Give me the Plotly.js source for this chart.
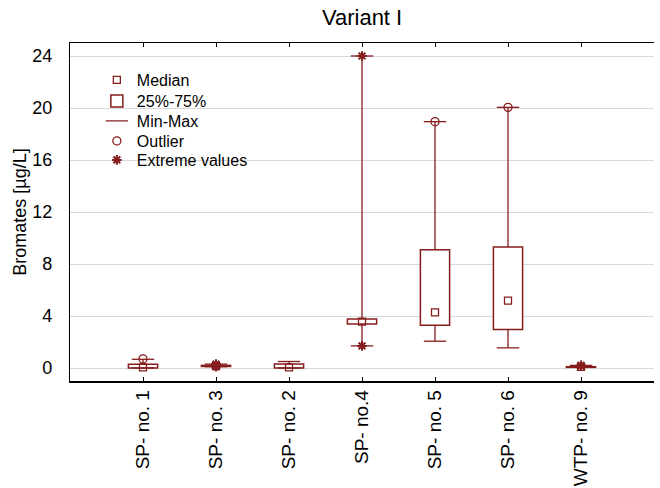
<!DOCTYPE html>
<html>
<head>
<meta charset="utf-8">
<script src="https://cdn.plot.ly/plotly-3.0.1.min.js"></script>
<style>html,body{margin:0;padding:0;background:#fff;}#chart{width:660px;height:488px;}</style>
</head>
<body>
<div id="chart"></div>
<script>
// ---- data ----
const categories = ["SP- no. 1", "SP- no. 3", "SP- no. 2", "SP- no.4", "SP- no. 5", "SP- no. 6", "WTP- no. 9"];
const medianVals = [0.05, 0.15, 0.05, 3.56, 4.28, 5.18, 0.08];
const q1Vals     = [0.0, 0.12, 0.0, 3.38, 3.28, 2.97, 0.05];
const q3Vals     = [0.29, 0.2, 0.3, 3.77, 9.1, 9.3, 0.1];
const minVals    = [0.0, 0.1, 0.0, 1.7, 2.06, 1.55, 0.05];
const maxVals    = [0.67, 0.3, 0.5, 24.0, 18.95, 20.05, 0.2];
const outlierCats = ["SP- no. 1", "SP- no. 5", "SP- no. 6"];
const outlierVals = [0.7, 18.95, 20.05];
const extremeCats = ["SP- no. 3", "SP- no. 3", "SP- no. 3", "SP- no.4", "SP- no.4", "WTP- no. 9", "WTP- no. 9"];
const extremeVals = [0.1, 0.2, 0.3, 1.7, 24.0, 0.15, 0.2];
const yTicks = [0, 4, 8, 12, 16, 20, 24];

const RED = "#861c1c";
const boxHeights = q3Vals.map((v, i) => v - q1Vals[i]);
const upperLen = maxVals.map((v, i) => v - q3Vals[i]);
const lowerLen = q1Vals.map((v, i) => v - minVals[i]);
const zeros = categories.map(() => 0);
const capCats = categories.concat(categories);
const capVals = maxVals.concat(minVals);

const traces = [
  {type: "scatter", mode: "markers", name: "Median", legend: "legend", x: categories, y: medianVals,
   marker: {symbol: "square-open", size: 7, color: RED, line: {width: 1.3, color: RED}}},
  {type: "bar", name: "25%-75%", legend: "legend2", x: categories, y: boxHeights, base: q1Vals, width: 0.4,
   marker: {color: "#ffffff", line: {color: RED, width: 1.5}}},
  {type: "scatter", mode: "markers", name: "whisker up", showlegend: false, x: categories, y: maxVals,
   marker: {size: 0.1, color: "rgba(0,0,0,0)"},
   error_y: {type: "data", symmetric: false, array: zeros, arrayminus: upperLen, color: RED, thickness: 1.3, width: 0}},
  {type: "scatter", mode: "markers", name: "whisker low", showlegend: false, x: categories, y: minVals,
   marker: {size: 0.1, color: "rgba(0,0,0,0)"},
   error_y: {type: "data", symmetric: false, array: lowerLen, arrayminus: zeros, color: RED, thickness: 1.3, width: 0}},
  {type: "scatter", mode: "markers", name: "Min-Max", legend: "legend3", x: capCats, y: capVals,
   marker: {symbol: "line-ew-open", size: 16, color: RED, line: {width: 1.3, color: RED}}},
  {type: "scatter", mode: "markers", name: "Outlier", legend: "legend4", x: outlierCats, y: outlierVals,
   marker: {symbol: "circle-open", size: 8, color: RED, line: {width: 1.3, color: RED}}},
  {type: "scatter", mode: "markers", name: "Extreme values", legend: "legend5", x: extremeCats, y: extremeVals,
   marker: {symbol: "asterisk-open", size: 8, color: RED, line: {width: 2, color: RED}}}
];

function leg(y) {
  return {x: 0.046, y: y, xanchor: "left", yanchor: "middle", bgcolor: "rgba(0,0,0,0)",
          borderwidth: 0, font: {size: 16}};
}

const layout = {
  width: 660, height: 488,
  margin: {l: 70, r: 6, t: 43, b: 107},
  paper_bgcolor: "#ffffff", plot_bgcolor: "#ffffff",
  font: {family: "Liberation Sans, Arial, sans-serif", size: 17, color: "#000"},
  title: {text: "Variant I", x: 0.5486, xanchor: "center", y: 0.964, yanchor: "middle", font: {size: 22}},
  showlegend: true,
  legend: leg(0.8905), legend2: leg(0.8284), legend3: leg(0.7692), legend4: leg(0.7101), legend5: leg(0.6538),
  bargap: 0,
  xaxis: {type: "category", categoryorder: "array", categoryarray: categories, range: [-1, 7],
          showline: true, linecolor: "#000", linewidth: 1.5, mirror: "ticks",
          ticks: "inside", ticklen: 4, tickcolor: "#000", tickangle: -90,
          showgrid: false, zeroline: false, tickfont: {size: 19}},
  yaxis: {range: [-1, 25], tickvals: yTicks, ticktext: yTicks.map(String),
          showline: true, linecolor: "#000", linewidth: 1.2,
          ticks: "", ticklabelstandoff: 13, showgrid: true, gridcolor: "#d9d9d9", gridwidth: 1, zeroline: false,
          tickfont: {size: 18},
          title: {text: "Bromates [µg/L]", font: {size: 18}, standoff: 0}}
};

Plotly.newPlot("chart", traces, layout, {displayModeBar: false, staticPlot: true});
</script>
</body>
</html>
